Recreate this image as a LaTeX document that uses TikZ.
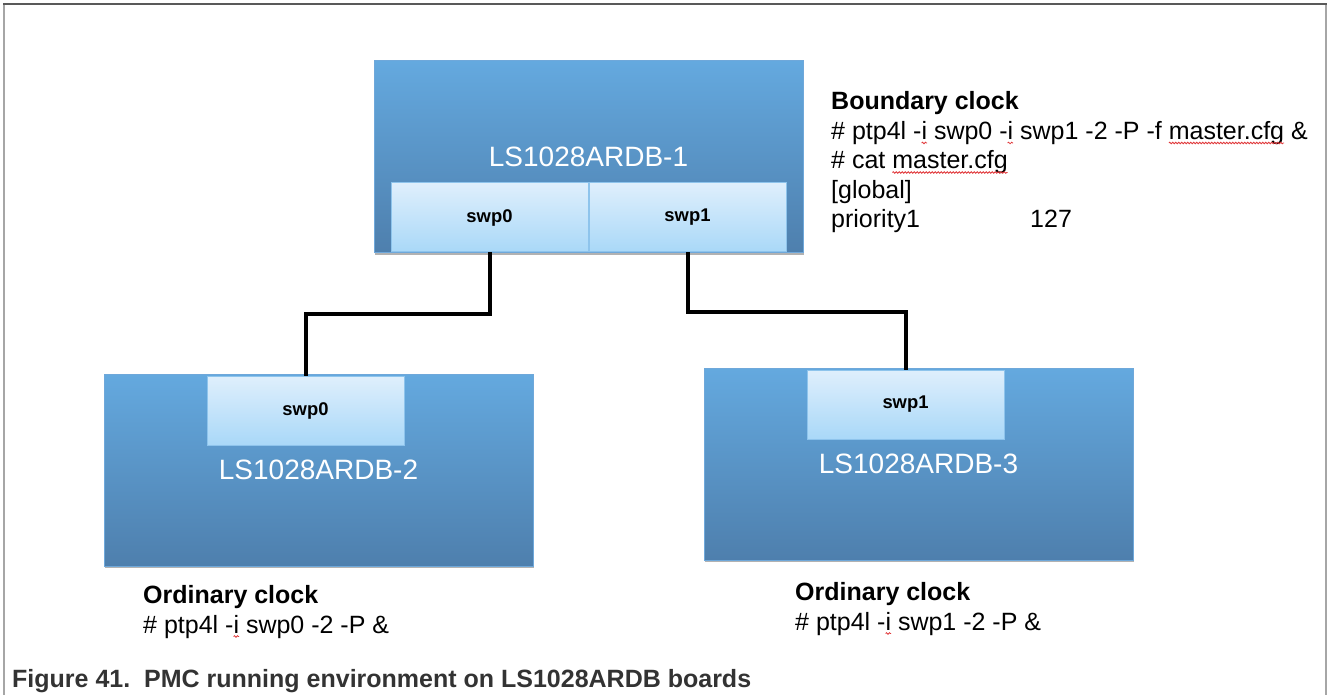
\documentclass[tikz,border=0pt]{standalone}
\usepackage{fontspec}
\setmainfont{Liberation Sans}
\usetikzlibrary{positioning, shadows, calc, decorations.pathmorphing}
\definecolor{boardtop}{HTML}{64A9DF}
\definecolor{boardbot}{HTML}{4E7FAD}
\definecolor{boardedge}{HTML}{6FA8DA}
\definecolor{porttop}{HTML}{DFEFFC}
\definecolor{portbot}{HTML}{A9D8F8}
\definecolor{portedge}{HTML}{8EC4EC}
\definecolor{spellred}{HTML}{E0383B}
\definecolor{capgrey}{HTML}{333333}
\newcommand{\spell}[1]{\tikz[baseline=(sw.base)]{\node[inner sep=0pt, outer sep=0pt] (sw) {#1};
  \draw[overlay, spellred, line width=0.8pt, decorate, decoration={snake, segment length=3pt, amplitude=0.8pt}] ([yshift=-3.5pt]sw.base west) -- ([yshift=-3.5pt]sw.base east);}}
\tikzset{
  board/.style={draw=boardedge, line width=1pt, top color=boardtop, bottom color=boardbot, minimum width=429pt, minimum height=192pt, inner sep=0pt, text=white, font=\fontsize{28}{32}\selectfont, drop shadow={shadow xshift=1pt, shadow yshift=-2pt, opacity=0.3, fill=black}},
  port/.style={draw=portedge, line width=1pt, top color=porttop, bottom color=portbot, minimum width=197pt, minimum height=69pt, inner sep=0pt, font=\fontsize{18.4}{22}\selectfont\bfseries},
  link/.style={line width=4pt, black},
  note/.style={align=left, inner sep=0pt, anchor=base west, font=\fontsize{25}{29.5}\selectfont},
  frame/.style={line width=2pt, black!35}
}
\begin{document}
\begin{tikzpicture}[x=1pt, y=-1pt]
\useasboundingbox (0,0) rectangle (1328,695);
% frame
\draw[frame] (4,695) -- (4,4);
\draw[frame] (1326,4) -- (1326,695);
\draw[frame, black!65, line width=1.5pt] (3,4) -- (1327,4);
% boards
\node[board] (b1) at (588.5,157) {LS1028ARDB-1};
\node[board] (b2) at (318.5,470) {LS1028ARDB-2};
\node[board] (b3) at (918.5,464) {LS1028ARDB-3};
% ports
\node[port, anchor=south west] (b1p0) at ([xshift=17pt, yshift=1pt]b1.south west) {swp0};
\node[port, right=0pt of b1p0] (b1p1) {swp1};
\node[port, anchor=north west] (b2p0) at ([xshift=103pt, yshift=-2pt]b2.north west) {swp0};
\node[port, anchor=north west] (b3p1) at ([xshift=103pt, yshift=-2pt]b3.north west) {swp1};
% cables
\draw[link] (b1p0.south) -- ++(0,61) -| (b2p0.north);
\draw[link] (b1p1.south) -- ++(0,59) -| (b3p1.north);
% clock notes (base = last line)
\node[note] (bc) at (831,228) {\textbf{Boundary clock}\\
  \# ptp4l -\spell{i} swp0 -\spell{i} swp1 -2 -P -f \spell{master.cfg} \&\\
  \# cat \spell{master.cfg}\\
  {[}global{]}\\
  \makebox[199pt][l]{priority1}127};
\node[note] (oc2) at (143,633) {\textbf{Ordinary clock}\\
  \# ptp4l -\spell{i} swp0 -2 -P \&};
\node[note] (oc3) at (795,630) {\textbf{Ordinary clock}\\
  \# ptp4l -\spell{i} swp1 -2 -P \&};
% caption
\node[note, font=\fontsize{25}{29}\selectfont\bfseries, text=capgrey] (cap) at (12,687) {Figure 41.\ \ PMC running environment on LS1028ARDB boards};
\end{tikzpicture}
\end{document}
